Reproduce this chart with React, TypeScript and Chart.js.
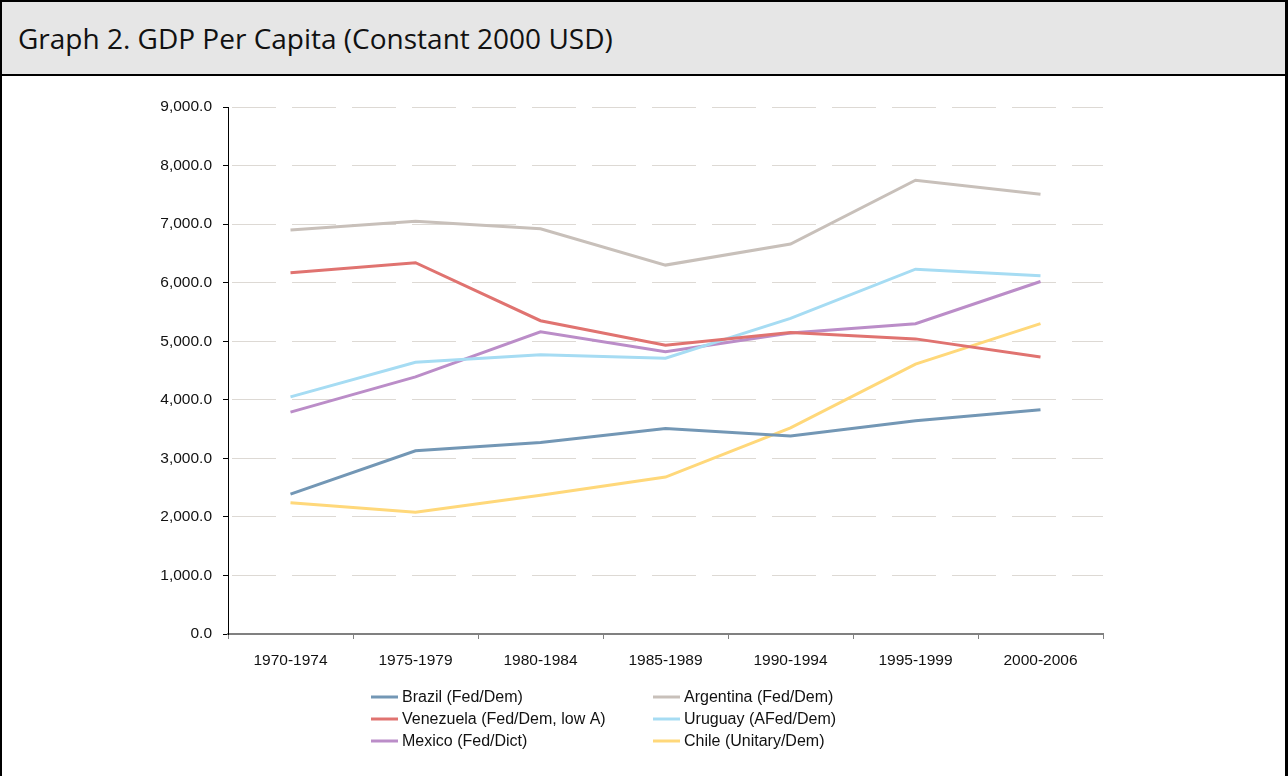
import React, { useEffect, useRef } from "react";
import { Chart, registerables } from "chart.js";

Chart.register(...registerables);

const periods = ["1970-1974", "1975-1979", "1980-1984", "1985-1989", "1990-1994", "1995-1999", "2000-2006"];
const brazil = [2390, 3130, 3270, 3510, 3380, 3640, 3830];
const argentina = [6900, 7050, 6920, 6300, 6660, 7750, 7510];
const venezuela = [6170, 6340, 5350, 4930, 5150, 5040, 4730];
const uruguay = [4050, 4640, 4770, 4710, 5390, 6230, 6120];
const mexico = [3790, 4390, 5160, 4820, 5140, 5300, 6020];
const chile = [2240, 2080, 2370, 2680, 3520, 4610, 5300];

const seriesLabels = [
  "Brazil (Fed/Dem)",
  "Argentina (Fed/Dem)",
  "Venezuela (Fed/Dem, low A)",
  "Uruguay (AFed/Dem)",
  "Mexico (Fed/Dict)",
  "Chile (Unitary/Dem)",
];
const seriesColors = ["#7397b5", "#c8c0ba", "#e07370", "#a6dcf3", "#bb8dc8", "#ffd87a"];
const seriesData = [brazil, argentina, venezuela, uruguay, mexico, chile];

const TICK_FONT = { family: "'Liberation Sans', Arial, sans-serif", size: 15.5 };

const legendPlugin = {
  id: "twoColLegend",
  afterDraw(chart: any) {
    const ctx = chart.ctx;
    const ds = chart.data.datasets;
    const cols = [369, 651];
    const rows = [621, 643, 665];
    ctx.save();
    ctx.font = "16px 'Liberation Sans', Arial, sans-serif";
    ctx.textBaseline = "middle";
    ctx.textAlign = "left";
    ds.forEach((d: any, i: number) => {
      const x = cols[i % 2];
      const y = rows[Math.floor(i / 2)];
      ctx.strokeStyle = d.borderColor;
      ctx.lineWidth = 3;
      ctx.beginPath();
      ctx.moveTo(x, y);
      ctx.lineTo(x + 27, y);
      ctx.stroke();
      ctx.fillStyle = "#111";
      ctx.fillText(d.label, x + 31, y + 1);
    });
    ctx.restore();
  },
};

function GdpChart() {
  const ref = useRef<HTMLCanvasElement>(null);
  useEffect(() => {
    if (!ref.current) return;
    const chart = new Chart(ref.current, {
      type: "line",
      data: {
        labels: periods,
        datasets: seriesData.map((d, i) => ({
          label: seriesLabels[i],
          data: d,
          borderColor: seriesColors[i],
          backgroundColor: seriesColors[i],
          borderWidth: 3,
          pointRadius: 0,
          tension: 0,
          fill: false,
        })),
      },
      options: {
        responsive: false,
        animation: false,
        layout: { padding: { left: 0, top: 31, right: 182, bottom: 92 } },
        plugins: { legend: { display: false }, tooltip: { enabled: false }, title: { display: false } },
        scales: {
          x: {
            offset: true,
            grid: {
              offset: true,
              drawOnChartArea: false,
              drawTicks: true,
              tickLength: 5,
              tickColor: "#808080",
              tickWidth: 1,
            },
            border: { display: true, color: "#808080", width: 2 },
            ticks: { color: "#111", font: TICK_FONT, padding: 12, maxRotation: 0, autoSkip: false },
            afterFit: (s: any) => {
              s.height = 50;
            },
          },
          y: {
            min: 0,
            max: 9000,
            grid: {
              color: (c: any) => (c.tick && c.tick.value === 0 ? "rgba(0,0,0,0)" : "#ddd9d4"),
              lineWidth: 1,
              drawTicks: true,
              tickLength: 5,
              tickColor: "#000",
              tickBorderDash: [],
            },
            border: { display: true, color: "#000", width: 1, dash: [44, 16], dashOffset: -3 },
            ticks: {
              stepSize: 1000,
              color: "#111",
              font: TICK_FONT,
              padding: 11,
              callback: (v: any) =>
                Number(v).toLocaleString("en-US", { minimumFractionDigits: 1, maximumFractionDigits: 1 }),
            },
            afterFit: (s: any) => {
              s.width = 226;
            },
          },
        },
      },
      plugins: [legendPlugin],
    });
    return () => chart.destroy();
  }, []);
  return <canvas ref={ref} width={1283} height={700} style={{ display: "block" }} />;
}

export default function App() {
  useEffect(() => {
    document.body.style.margin = "0";
  }, []);
  return (
    <div
      style={{
        width: 1288,
        height: 776,
        boxSizing: "border-box",
        borderLeft: "2px solid #000",
        borderTop: "2px solid #000",
        borderRight: "3px solid #000",
        background: "#fff",
        overflow: "hidden",
      }}
    >
      <div
        style={{
          height: 72,
          background: "#e6e6e6",
          borderBottom: "2px solid #000",
          display: "flex",
          alignItems: "center",
          paddingLeft: 16,
          fontFamily: "'Open Sans', 'Noto Sans', sans-serif",
          fontSize: 28,
          color: "#111",
        }}
      >
        Graph 2. GDP Per Capita (Constant 2000 USD)
      </div>
      <GdpChart />
    </div>
  );
}
